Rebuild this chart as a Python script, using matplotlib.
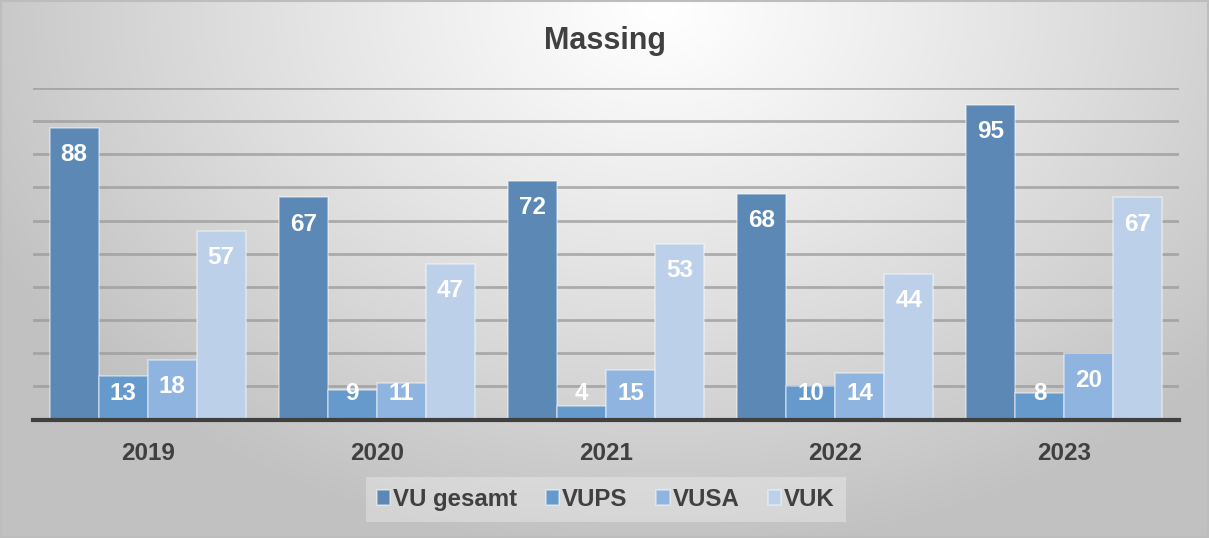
import numpy as np
import matplotlib
matplotlib.use("Agg")
import matplotlib.pyplot as plt
from matplotlib.patches import Rectangle

plt.rcParams['font.family'] = ['Liberation Sans', 'DejaVu Sans']

# Data
title = "Massing"
years = ["2019", "2020", "2021", "2022", "2023"]
series_names = ["VU gesamt", "VUPS", "VUSA", "VUK"]
vu_gesamt = [88, 67, 72, 68, 95]
vups = [13, 9, 4, 10, 8]
vusa = [18, 11, 15, 14, 20]
vuk = [57, 47, 53, 44, 67]
series_values = [vu_gesamt, vups, vusa, vuk]
colors = ["#5b88b4", "#6699cc", "#8fb4df", "#bdd0ea"]

W, H = 1209, 538
fig = plt.figure(figsize=(W / 100, H / 100), dpi=100)

# Radial grey background, brightest near the top centre
bg = fig.add_axes([0, 0, 1, 1], zorder=-10)
yy, xx = np.mgrid[0:H, 0:W]
d = np.sqrt(((xx - 660) / 740.0) ** 2 + ((yy - 10) / 540.0) ** 2)
shade = 1.0 - 0.24 * np.clip(d, 0, 1) ** 1.1
img = np.dstack([shade, shade, shade])
bg.imshow(img, extent=[0, 1, 0, 1], aspect='auto', origin='upper')
bg.set_xlim(0, 1)
bg.set_ylim(0, 1)
bg.axis('off')
bg.add_patch(Rectangle((0.0005, 0.001), 0.999, 0.998, transform=bg.transAxes,
                       fill=False, edgecolor="#bdbdbd", lw=1.5))

ax = fig.add_axes([33 / W, 1 - 419.5 / H, (1179 - 33) / W, (419.5 - 88) / H])
ax.set_facecolor('none')

n_groups = len(years)
n_series = len(series_values)
bar_w = 0.214
x = np.arange(n_groups)

for i, (name, vals, col) in enumerate(zip(series_names, series_values, colors)):
    offs = (i - (n_series - 1) / 2) * bar_w
    ax.bar(x + offs, vals, width=bar_w, color=col, edgecolor=(1, 1, 1, 0.45),
           linewidth=1.2, label=name, zorder=3)
    for xi, v in zip(x + offs, vals):
        ax.text(xi, max(v - 8.1, 7.7), str(v), ha='center', va='center',
                color='white', fontsize=17.5, fontweight='bold', zorder=4)

ax.set_xlim(-0.5, n_groups - 0.5)
ax.set_ylim(0, 100)
for g in range(10, 101, 10):
    ax.axhline(g, color="#9a9a9a", lw=2.0, alpha=0.75, zorder=1)
ax.axhline(0, color="#404040", lw=3, zorder=5, clip_on=False)

ax.set_yticks([])
ax.set_xticks(x)
ax.set_xticklabels(years, fontsize=17.5, fontweight='bold', color="#404040")
ax.tick_params(axis='x', length=0, pad=16)
for s in ax.spines.values():
    s.set_visible(False)

fig.text(605 / W, 1 - 41 / H, title, ha='center', va='center', fontsize=22,
         fontweight='bold', color="#404040")

leg = fig.legend(loc='center', bbox_to_anchor=(606 / W, 1 - 499.5 / H), ncol=4,
                 frameon=True, framealpha=0.3, handlelength=0.55, handleheight=0.55,
                 handletextpad=0.12, columnspacing=1.2, borderpad=0.45,
                 fancybox=False, prop={'weight': 'bold', 'size': 17.3})
leg.get_frame().set_facecolor("white")
leg.get_frame().set_edgecolor('none')
for t in leg.get_texts():
    t.set_color("#404040")

fig.savefig("out.png", dpi=100)
